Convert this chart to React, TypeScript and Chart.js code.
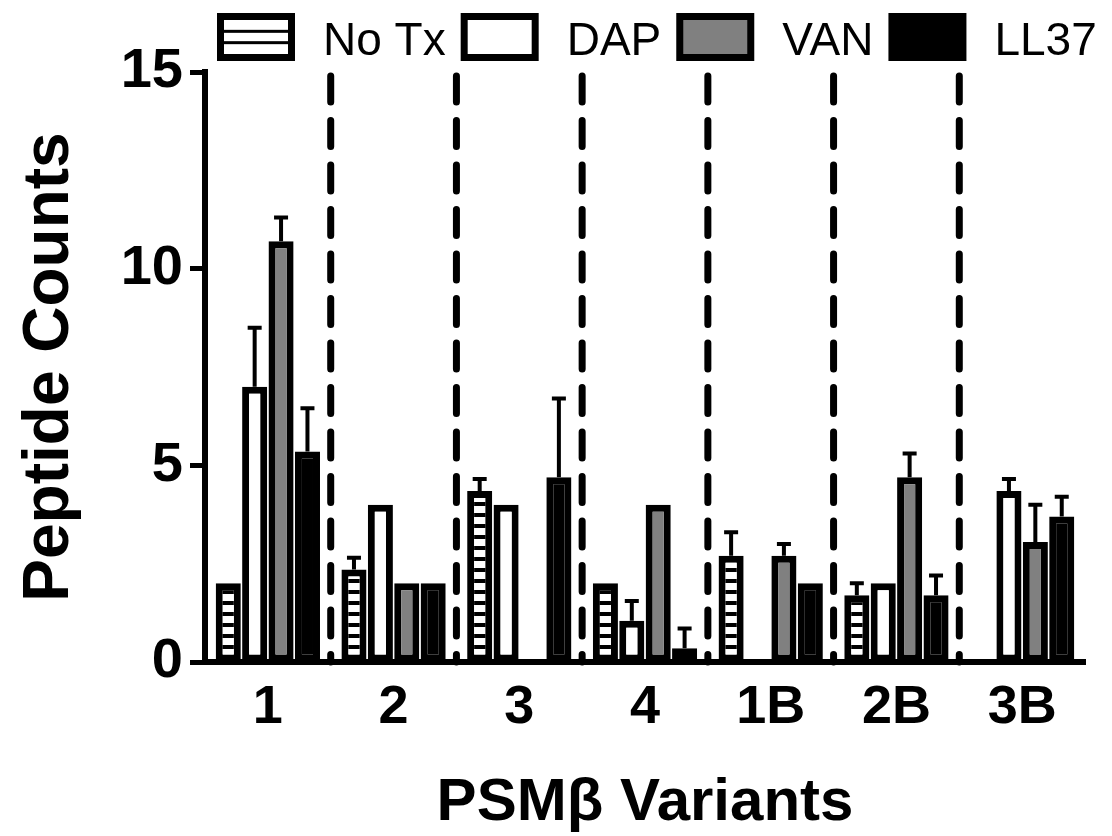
import React, { useEffect, useRef } from 'react';
import { Chart, registerables } from 'chart.js';

Chart.register(...registerables);

const categories = ['1', '2', '3', '4', '1B', '2B', '3B'];
const seriesNames = ['No Tx', 'DAP', 'VAN', 'LL37'];
const noTx = [2, 2.35, 4.35, 2, 2.7, 1.7, 0];
const noTxErr = [0, 0.3, 0.3, 0, 0.6, 0.3, 0];
const dap = [7, 4, 4, 1.05, 0, 2, 4.35];
const dapErr = [1.5, 0, 0, 0.5, 0, 0, 0.3];
const van = [10.7, 2, 0, 4, 2.7, 4.7, 3.05];
const vanErr = [0.6, 0, 0, 0, 0.3, 0.6, 0.95];
const ll37 = [5.35, 2, 4.7, 0.35, 2, 1.7, 3.7];
const ll37Err = [1.1, 0, 2, 0.5, 0, 0.5, 0.5];
const yMin = 0;
const yMax = 15;
const yStep = 5;
const xTitle = 'PSMβ Variants';
const yTitle = 'Peptide Counts';

const FONT = '"Liberation Sans", Arial, Helvetica, sans-serif';

function makeStripePattern(): CanvasPattern | string {
  const c = document.createElement('canvas');
  c.width = 10;
  c.height = 11;
  const g = c.getContext('2d');
  if (!g) return '#ffffff';
  g.fillStyle = '#ffffff';
  g.fillRect(0, 0, 10, 11);
  g.fillStyle = '#000000';
  g.fillRect(0, 7, 10, 4);
  const p = g.createPattern(c, 'repeat');
  return p || '#ffffff';
}

const separatorPlugin = {
  id: 'separators',
  beforeDatasetsDraw(chart: any) {
    const { ctx, chartArea } = chart;
    const xs = chart.scales.x;
    const n = chart.data.labels.length;
    ctx.save();
    ctx.strokeStyle = '#000';
    ctx.lineWidth = 7;
    ctx.lineCap = 'round';
    ctx.setLineDash([26, 18.5]);
    for (let i = 0; i < n - 1; i++) {
      const x = (xs.getPixelForValue(i) + xs.getPixelForValue(i + 1)) / 2;
      ctx.beginPath();
      ctx.moveTo(x, chartArea.top + 4);
      ctx.lineTo(x, chartArea.bottom);
      ctx.stroke();
    }
    ctx.restore();
  },
};

const errorBarPlugin = {
  id: 'errorBars',
  afterDatasetsDraw(chart: any) {
    const { ctx } = chart;
    const ys = chart.scales.y;
    ctx.save();
    ctx.strokeStyle = '#000';
    ctx.lineWidth = 4;
    chart.data.datasets.forEach((ds: any, i: number) => {
      const meta = chart.getDatasetMeta(i);
      meta.data.forEach((el: any, j: number) => {
        const e = ds.errors ? ds.errors[j] : 0;
        if (!e) return;
        const v = ds.data[j];
        const yTop = ys.getPixelForValue(v + e);
        const yBar = ys.getPixelForValue(v);
        ctx.beginPath();
        ctx.moveTo(el.x, yBar);
        ctx.lineTo(el.x, yTop);
        ctx.moveTo(el.x - 7, yTop);
        ctx.lineTo(el.x + 7, yTop);
        ctx.stroke();
      });
    });
    ctx.restore();
  },
};

const legendPlugin = {
  id: 'boxLegend',
  afterDraw(chart: any) {
    const { ctx, chartArea } = chart;
    ctx.save();
    ctx.font = `46px ${FONT}`;
    ctx.textBaseline = 'alphabetic';
    ctx.textAlign = 'left';
    let x = chartArea.left + 12;
    const top = 13;
    const bw = 78;
    const bh = 48;
    const lw = 7;
    chart.data.datasets.forEach((ds: any) => {
      ctx.fillStyle = '#000';
      ctx.fillRect(x, top, bw, bh);
      const ix = x + lw;
      const iy = top + lw;
      const iw = bw - 2 * lw;
      const ih = bh - 2 * lw;
      if (ds.striped) {
        ctx.fillStyle = '#fff';
        ctx.fillRect(ix, iy, iw, ih);
        ctx.fillStyle = '#000';
        ctx.fillRect(ix, iy + ih / 3 - 1.5, iw, 3);
        ctx.fillRect(ix, iy + (2 * ih) / 3 - 1.5, iw, 3);
      } else {
        ctx.fillStyle = ds.backgroundColor;
        ctx.fillRect(ix, iy, iw, ih);
      }
      x += bw + 28;
      ctx.fillStyle = '#000';
      ctx.fillText(ds.label, x, top + bh / 2 + 18);
      x += ctx.measureText(ds.label).width + 15;
    });
    ctx.restore();
  },
};

export default function App() {
  const canvasRef = useRef<HTMLCanvasElement | null>(null);

  useEffect(() => {
    if (!canvasRef.current) return;
    const stripes = makeStripePattern();
    const common = {
      borderColor: '#000000',
      borderWidth: 7,
      borderSkipped: false,
      categoryPercentage: 0.84,
      barPercentage: 0.95,
    };
    const chart = new Chart(canvasRef.current, {
      type: 'bar',
      data: {
        labels: categories,
        datasets: [
          { ...common, label: seriesNames[0], data: noTx, errors: noTxErr, backgroundColor: stripes, striped: true } as any,
          { ...common, label: seriesNames[1], data: dap, errors: dapErr, backgroundColor: '#ffffff' } as any,
          { ...common, label: seriesNames[2], data: van, errors: vanErr, backgroundColor: '#808080' } as any,
          { ...common, label: seriesNames[3], data: ll37, errors: ll37Err, backgroundColor: '#000000' } as any,
        ],
      },
      options: {
        animation: false,
        responsive: true,
        maintainAspectRatio: false,
        layout: { padding: { top: 72, right: 27, bottom: 0, left: 0 } },
        plugins: {
          legend: { display: false },
          tooltip: { enabled: false },
        },
        scales: {
          x: {
            afterFit: (scale: any) => {
              scale.height = 174;
            },
            grid: { display: false, drawTicks: false },
            border: { display: true, color: '#000', width: 6 },
            ticks: {
              color: '#000',
              padding: 14,
              font: { family: FONT, size: 54, weight: 'bold' },
            },
            title: {
              display: true,
              text: xTitle,
              color: '#000',
              padding: { top: 0, bottom: 0 },
              font: { family: FONT, size: 60, weight: 'bold', lineHeight: 1.1 },
            },
          },
          y: {
            min: yMin,
            max: yMax,
            afterFit: (scale: any) => {
              scale.width = 205;
            },
            grid: {
              display: true,
              drawOnChartArea: false,
              drawTicks: true,
              tickLength: 15,
              tickWidth: 5,
              tickColor: '#000',
            },
            border: { display: true, color: '#000', width: 6 },
            ticks: {
              stepSize: yStep,
              color: '#000',
              padding: 7,
              font: { family: FONT, size: 56, weight: 'bold' },
            },
            title: {
              display: true,
              text: yTitle,
              color: '#000',
              padding: { top: 12, bottom: 0 },
              font: { family: FONT, size: 64, weight: 'bold', lineHeight: 1.2 },
            },
          },
        },
      } as any,
      plugins: [separatorPlugin, errorBarPlugin, legendPlugin],
    });
    return () => chart.destroy();
  }, []);

  return (
    <div style={{ position: 'fixed', left: 0, top: 0, width: 1112, height: 836, background: '#fff' }}>
      <canvas ref={canvasRef} />
    </div>
  );
}
